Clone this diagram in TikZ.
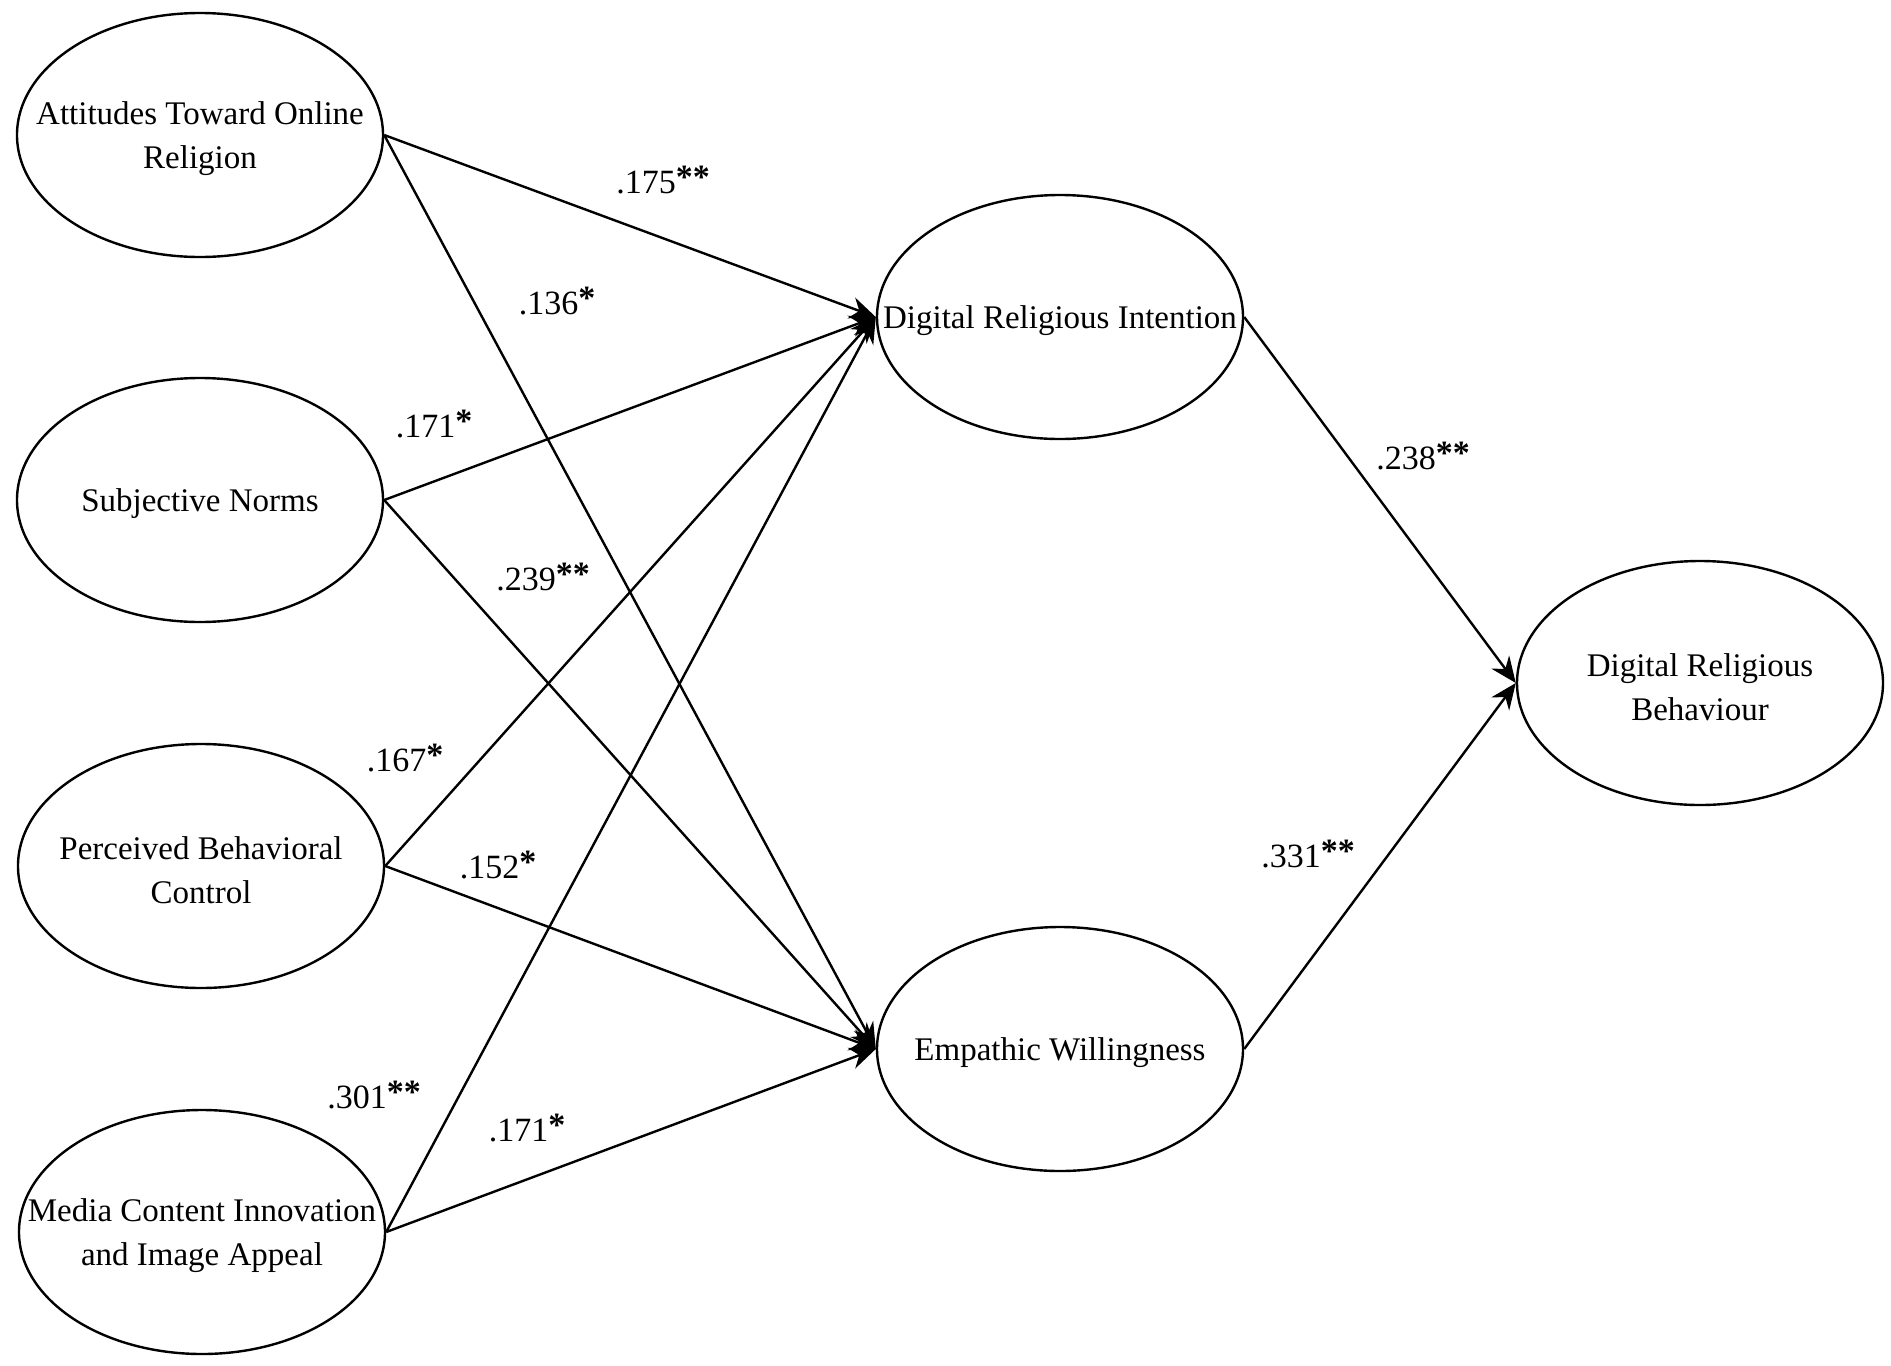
\documentclass[tikz,border=0pt]{standalone}
\usepackage{fontspec}
\setmainfont{Liberation Serif}
\usepackage{tikz}
\usetikzlibrary{arrows.meta,shapes.geometric,positioning}
\newcommand{\sig}[1]{\raisebox{0.12em}{\bfseries #1}}

\begin{document}
\begin{tikzpicture}[
  x=0.5pt, y=-0.5pt,
  lat/.style={ellipse,draw=black,line width=1.2pt,
              minimum width=183pt,minimum height=122pt,inner sep=0pt},
  ltxt/.style={align=center,inner sep=0pt,yshift=-2pt,font=\fontsize{16.5}{22}\selectfont},
  path/.style={line width=1.2pt,-{Stealth[length=13pt,width=11pt]}},
  coef/.style={font=\fontsize{17}{20}\selectfont,inner sep=1pt},
]
\useasboundingbox (0,0) rectangle (1891,1366);

% Predictors
\node[lat,label={[ltxt]center:{Attitudes Toward Online\\Religion}}] (att) at (200,135) {};
\node[lat,label={[ltxt]center:{Subjective Norms}}] (sn) at (200,500) {};
\node[lat,label={[ltxt]center:{Perceived Behavioral\\Control}}] (pbc) at (201,866) {};
\node[lat,label={[ltxt]center:{Media Content Innovation\\and Image Appeal}}] (mci) at (202,1232) {};

% Mediators and outcome
\node[lat,label={[ltxt]center:{Digital Religious Intention}}] (dri) at (1060,317) {};
\node[lat,label={[ltxt]center:{Empathic Willingness}}] (ew) at (1060,1049) {};
\node[lat,label={[ltxt]center:{Digital Religious\\Behaviour}}] (drb) at (1700,683) {};

% Paths to intention / willingness
\foreach \src in {att,sn,pbc,mci} {
  \draw[path] (\src.east) -- (dri.west);
  \draw[path] (\src.east) -- (ew.west);
}
\draw[path] (dri.east) -- (drb.west);
\draw[path] (ew.east)  -- (drb.west);

% Path coefficients
\node[coef] (c1)  at (663,180)  {.175\sig{**}};
\node[coef] (c2)  at (557,301)  {.136\sig{*}};
\node[coef] (c3)  at (434,424)  {.171\sig{*}};
\node[coef] (c4)  at (543,577)  {.239\sig{**}};
\node[coef] (c5)  at (405,758)  {.167\sig{*}};
\node[coef] (c6)  at (498,865)  {.152\sig{*}};
\node[coef] (c7)  at (374,1095) {.301\sig{**}};
\node[coef] (c8)  at (527,1128) {.171\sig{*}};
\node[coef] (c9)  at (1423,456) {.238\sig{**}};
\node[coef] (c10) at (1308,854) {.331\sig{**}};
\end{tikzpicture}
\end{document}
